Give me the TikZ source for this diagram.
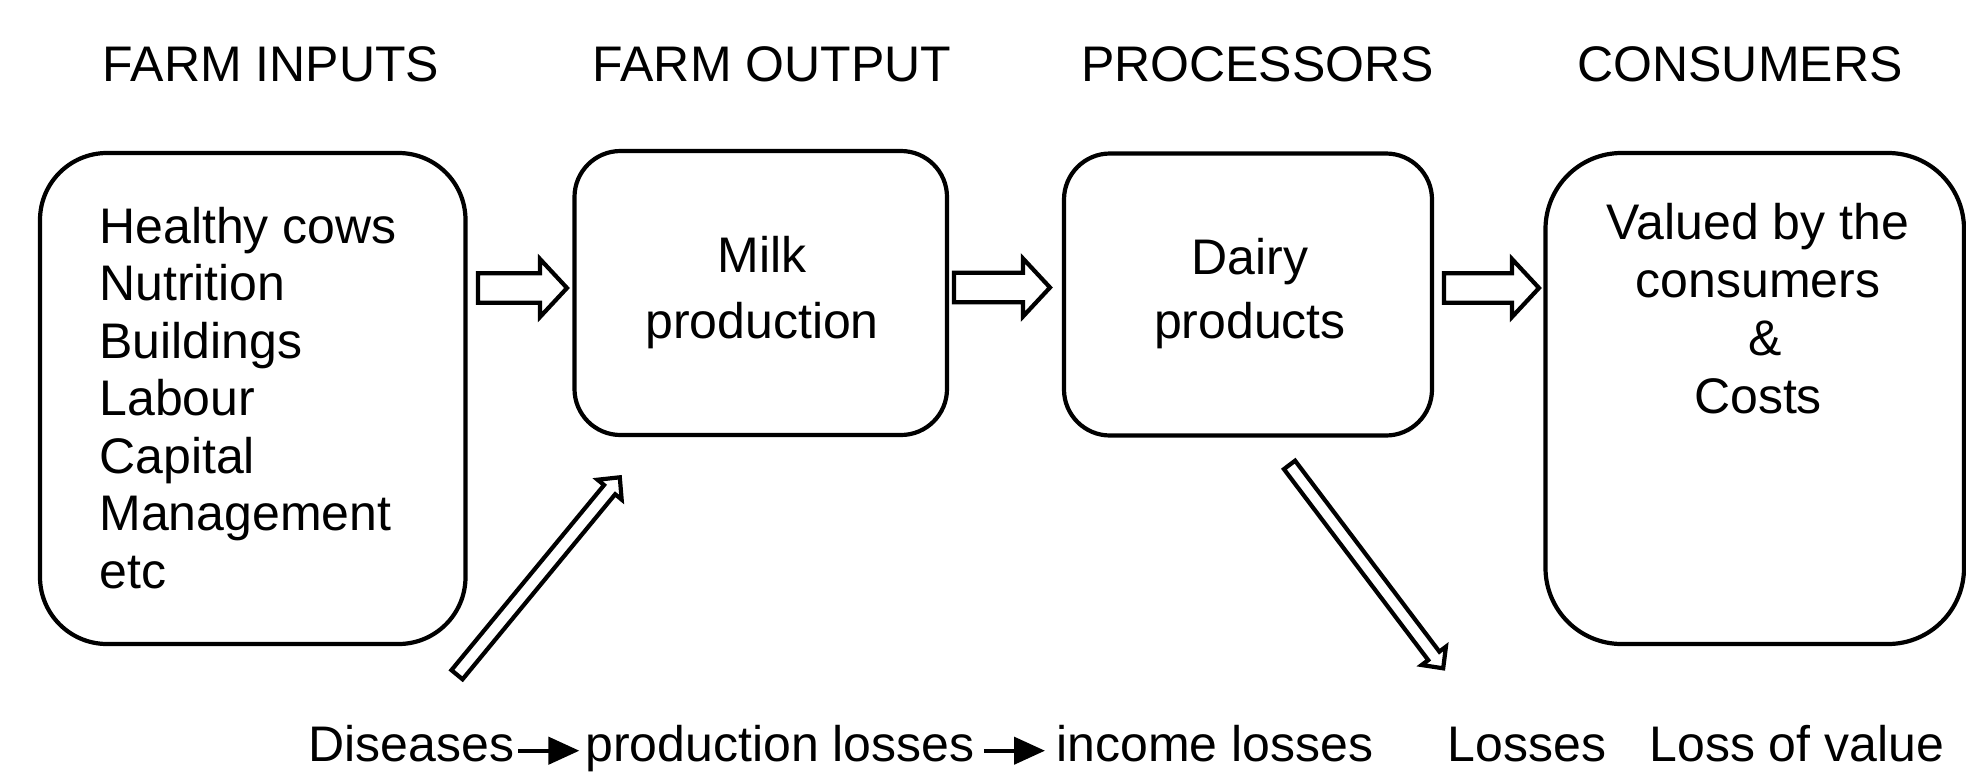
\documentclass[tikz,border=0pt]{standalone}
\usepackage{fontspec}
\setmainfont{Liberation Sans}
\usetikzlibrary{calc,arrows.meta}
% #1 start, #2 end (coordinate names), #3 shaft half width, #4 head half width, #5 head length
\newcommand{\blockarrow}[5]{%
  \coordinate (hb) at ($(#2)!#5!(#1)$);
  \draw[barrow] ($(#1)!#3!90:(#2)$) -- ($(hb)!#3!90:(#2)$) -- ($(hb)!#4!90:(#2)$) -- (#2)
    -- ($(hb)!#4!-90:(#2)$) -- ($(hb)!#3!-90:(#2)$) -- ($(#1)!#3!-90:(#2)$) -- cycle;}
\begin{document}
\begin{tikzpicture}[x=0.5pt,y=-0.5pt,
  box/.style={draw, line width=2.1pt, rectangle, inner sep=0pt},
  txt/.style={inner sep=0pt, font=\fontsize{25}{30}\selectfont},
  barrow/.style={draw, line width=2.1pt, fill=white, line join=miter, miter limit=10},
  smallarr/.style={line width=2.2pt, -{Triangle[length=15.5pt,width=13.5pt]}}]
\useasboundingbox (0,0) rectangle (1966,782);

% headers
\node[txt, anchor=base] (h1) at (271,81.5) {FARM INPUTS};
\node[txt, anchor=base] (h2) at (772,81.5) {FARM OUTPUT};
\node[txt, anchor=base] (h3) at (1257.5,81.5) {PROCESSORS};
\node[txt, anchor=base] (h4) at (1740,81.5) {CONSUMERS};

% boxes
\node[box, minimum width=212.75pt, minimum height=245.5pt, rounded corners=33.5pt] (b1) at (252.75,398.5) {};
\node[box, minimum width=186.25pt, minimum height=142pt, rounded corners=23pt] (b2) at (760.75,293) {};
\node[box, minimum width=184pt, minimum height=141pt, rounded corners=23pt] (b3) at (1248,294.5) {};
\node[box, minimum width=209.25pt, minimum height=245.5pt, rounded corners=38pt] (b4) at (1754.75,398.5) {};

% box texts
\foreach \t [count=\i] in {Healthy cows, Nutrition, Buildings, Labour, Capital, Management, etc}
  \node[txt, anchor=base west] (in\i) at (99,{243.3+57.5*(\i-1)}) {\t};
\node[txt, anchor=base] (m1) at (762,272.7) {Milk};
\node[txt, anchor=base] (m2) at (762,338.3) {production};
\node[txt, anchor=base] (d1) at (1250,274) {Dairy};
\node[txt, anchor=base] (d2) at (1250,338.3) {products};
\node[txt, anchor=base] (c1) at (1758,239.3) {Valued by the};
\node[txt, anchor=base] (c2) at (1758,297.3) {consumers};
\node[txt, anchor=base] (c3) at (1765,355) {\&};
\node[txt, anchor=base] (c4) at (1758,413.3) {Costs};

% block arrows between boxes
\coordinate (a1s) at (478,288);   \coordinate (a1e) at (567,288);
\coordinate (a2s) at (954,287.5); \coordinate (a2e) at (1050,287.5);
\coordinate (a3s) at (1444,288);  \coordinate (a3e) at (1539,288);
\blockarrow{a1s}{a1e}{7.4pt}{14.5pt}{13.5pt}
\blockarrow{a2s}{a2e}{7.4pt}{14.5pt}{13.5pt}
\blockarrow{a3s}{a3e}{7.4pt}{14.5pt}{13.5pt}

% diagonal arrows
\coordinate (ds1) at (457,674.7);   \coordinate (de1) at (619.8,477.3);
\coordinate (ds2) at (1289.5,464.9); \coordinate (de2) at (1443.2,668.3);
\blockarrow{ds1}{de1}{3.6pt}{7.8pt}{8pt}
\blockarrow{ds2}{de2}{3.5pt}{7.6pt}{7.8pt}

% bottom text
\node[txt, anchor=base west] (dis) at (308,761.7) {Diseases};
\node[txt, anchor=base west] (prod) at (585,761.7) {production losses};
\node[txt, anchor=base west] (inc) at (1056,761.7) {income losses};
\node[txt, anchor=base west] (los) at (1447.5,761.7) {Losses};
\node[txt, anchor=base west] (lov) at (1649,761.7) {Loss of value};
\draw[smallarr] ([shift={(2pt,5.5pt)}]dis.base east) -- ([shift={(-2.8pt,5.5pt)}]prod.base west);
\draw[smallarr] ([shift={(4.5pt,5.5pt)}]prod.base east) -- ([shift={(-5.5pt,5.5pt)}]inc.base west);
\end{tikzpicture}
\end{document}
